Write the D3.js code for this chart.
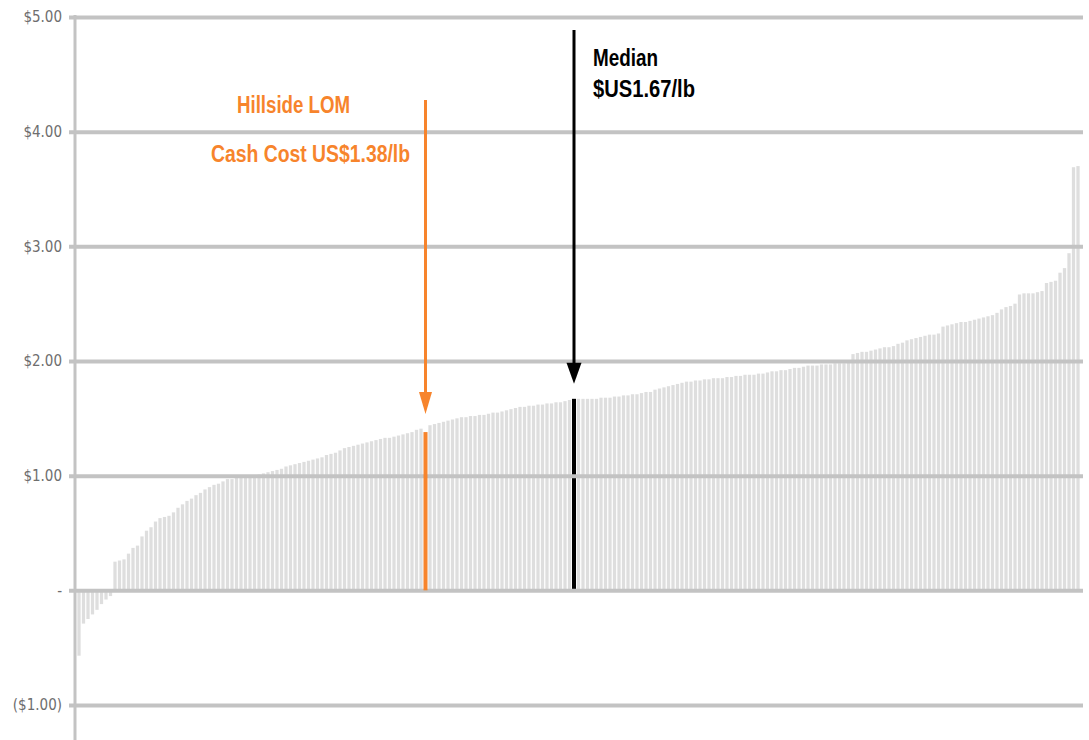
<!DOCTYPE html>
<html>
<head>
<meta charset="utf-8">
<script src="https://cdn.jsdelivr.net/npm/d3@7"></script>
<style>
  html, body { margin: 0; padding: 0; background: #ffffff; }
  svg { display: block; }
</style>
</head>
<body>
<svg id="chart" width="1089" height="740"></svg>
<script>
// Cash cost curve (US$/lb), one value per operation, sorted low to high
const costs = [
  -0.57, -0.29, -0.25, -0.21, -0.17, -0.12, -0.08, -0.05,
   0.25,  0.26,  0.27,  0.32,  0.37,  0.39,  0.47,  0.52,  0.55,  0.60,
   0.63,  0.64,  0.65,  0.68,  0.72,  0.75,  0.78,  0.80,  0.83,  0.85,
   0.88,  0.90,  0.92,  0.93,  0.95,  0.97,  0.97,  0.98,  0.99,  0.99,
   1.00,  1.00,  1.01,  1.02,  1.03,  1.04,  1.05,  1.06,  1.08,  1.09,
   1.10,  1.11,  1.12,  1.13,  1.14,  1.15,  1.16,  1.18,  1.19,  1.20,
   1.22,  1.24,  1.25,  1.26,  1.27,  1.28,  1.29,  1.30,  1.31,  1.32,
   1.33,  1.33,  1.34,  1.35,  1.36,  1.37,  1.38,  1.40,  1.41,  1.38,
   1.44,  1.45,  1.46,  1.47,  1.48,  1.49,  1.50,  1.51,  1.51,  1.52,
   1.52,  1.53,  1.53,  1.54,  1.55,  1.55,  1.56,  1.57,  1.58,  1.59,
   1.60,  1.60,  1.61,  1.61,  1.62,  1.62,  1.63,  1.63,  1.64,  1.64,
   1.65,  1.66,  1.67,  1.67,  1.67,  1.67,  1.67,  1.67,  1.68,  1.68,
   1.68,  1.69,  1.69,  1.70,  1.70,  1.71,  1.71,  1.72,  1.73,  1.73,
   1.75,  1.76,  1.77,  1.78,  1.79,  1.80,  1.81,  1.82,  1.82,  1.83,
   1.83,  1.84,  1.84,  1.85,  1.85,  1.85,  1.86,  1.86,  1.87,  1.87,
   1.88,  1.88,  1.88,  1.89,  1.89,  1.90,  1.91,  1.91,  1.92,  1.92,
   1.93,  1.94,  1.94,  1.95,  1.96,  1.96,  1.96,  1.97,  1.97,  1.97,
   1.98,  1.98,  1.98,  1.99,  2.06,  2.07,  2.08,  2.08,  2.09,  2.10,
   2.11,  2.12,  2.12,  2.13,  2.15,  2.16,  2.18,  2.19,  2.20,  2.21,
   2.22,  2.23,  2.23,  2.24,  2.30,  2.31,  2.32,  2.33,  2.34,  2.34,
   2.35,  2.36,  2.37,  2.38,  2.39,  2.40,  2.42,  2.45,  2.47,  2.48,
   2.50,  2.58,  2.59,  2.59,  2.59,  2.60,  2.61,  2.68,  2.69,  2.70,
   2.77,  2.81,  2.94,  3.69,  3.70
];

// Highlighted operations
const hillsideIndex = 77;
const hillsideCost = 1.38;
const medianIndex = 110;
const medianCost = 1.67;

// Axis ticks
const tickValues = [5, 4, 3, 2, 1, 0, -1];
const tickLabels = ["$5.00", "$4.00", "$3.00", "$2.00", "$1.00", "-", "($1.00)"];

// Annotation text
const hillsideLines = ["Hillside LOM", "Cash Cost US$1.38/lb"];
const medianLines = ["Median", "$US1.67/lb"];

const svg = d3.select("#chart");

const y = d3.scaleLinear().domain([-1, 5]).range([705, 17]);
const x = d3.scaleBand()
  .domain(d3.range(costs.length))
  .range([76.75, 1080.25])
  .paddingInner(0.27)
  .paddingOuter(0.135);

const GRID = "#c3c3c3";
const BAR = "#dedede";
const ORANGE = "#f7842c";
const labelFont = "'Liberation Sans', Arial, sans-serif";

const cx = i => x(i) + x.bandwidth() / 2;

// Gray cost bars
svg.append("g")
  .selectAll("rect")
  .data(costs)
  .join("rect")
  .attr("x", (d, i) => x(i))
  .attr("width", x.bandwidth())
  .attr("y", d => Math.min(y(d), y(0)))
  .attr("height", d => Math.abs(y(d) - y(0)))
  .attr("fill", BAR);

// Median bar (sits beneath the gridlines)
svg.append("rect")
  .attr("x", cx(medianIndex) - 2)
  .attr("width", 4)
  .attr("y", y(medianCost))
  .attr("height", y(0) - y(medianCost))
  .attr("fill", "#000000");

// Gridlines and tick labels
const axis = d3.axisLeft(y)
  .tickValues(tickValues)
  .tickFormat((d, i) => tickLabels[i])
  .tickSizeInner(-1010)
  .tickSizeOuter(0)
  .tickPadding(11);

const gAxis = svg.append("g")
  .attr("transform", "translate(73,0)")
  .call(axis);
gAxis.select(".domain").remove();
gAxis.selectAll(".tick line")
  .attr("x1", -4)
  .attr("stroke", GRID)
  .attr("stroke-width", 4);
gAxis.selectAll(".tick text")
  .attr("fill", "#6e6e6e")
  .attr("font-family", "'DejaVu Sans Condensed', 'DejaVu Sans', sans-serif")
  .attr("font-size", 15);

// Vertical axis line
svg.append("line")
  .attr("x1", 75).attr("x2", 75)
  .attr("y1", 15).attr("y2", 740)
  .attr("stroke", GRID)
  .attr("stroke-width", 3);

// Hillside bar on top
svg.append("rect")
  .attr("x", cx(hillsideIndex) - 2)
  .attr("width", 4)
  .attr("y", y(hillsideCost))
  .attr("height", y(0) - y(hillsideCost))
  .attr("fill", ORANGE);

// Downward arrows
function arrow(xc, yStart, yTip, color, headW, headH) {
  svg.append("line")
    .attr("x1", xc).attr("x2", xc)
    .attr("y1", yStart).attr("y2", yTip - headH + 2)
    .attr("stroke", color)
    .attr("stroke-width", 3);
  svg.append("path")
    .attr("d", `M${xc - headW / 2},${yTip - headH} L${xc + headW / 2},${yTip - headH} L${xc},${yTip} Z`)
    .attr("fill", color);
}
arrow(cx(hillsideIndex), 100, y(hillsideCost) - 18, ORANGE, 13, 22);
arrow(cx(medianIndex), 30, y(medianCost) - 15, "#000000", 15, 21);

// Annotation labels (narrow bold lettering)
function label(g, str, xPos, yPos, width) {
  g.append("text")
    .attr("x", xPos)
    .attr("y", yPos)
    .attr("textLength", width)
    .attr("lengthAdjust", "spacingAndGlyphs")
    .text(str);
}

const hillsideText = svg.append("g")
  .attr("fill", ORANGE)
  .attr("font-family", labelFont)
  .attr("font-weight", "bold")
  .attr("font-size", 23);
label(hillsideText, hillsideLines[0], 237, 113, 113);
label(hillsideText, hillsideLines[1], 211, 162, 199);

const medianText = svg.append("g")
  .attr("fill", "#000000")
  .attr("font-family", labelFont)
  .attr("font-weight", "bold")
  .attr("font-size", 23);
label(medianText, medianLines[0], 593, 66, 65);
label(medianText, medianLines[1], 593, 97, 102);
</script>
</body>
</html>
